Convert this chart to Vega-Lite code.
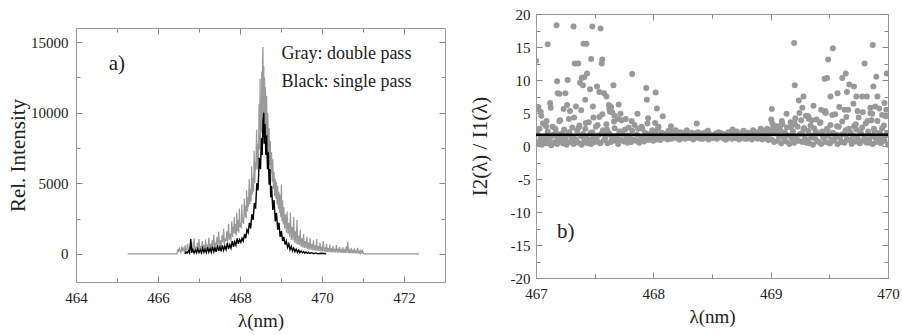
{
  "$schema": "https://vega.github.io/schema/vega-lite/v6.json",
  "background": "white",
  "padding": {"left": 7, "top": 7, "right": 2, "bottom": 2},
  "spacing": 23,
  "config": {
    "view": {"stroke": null},
    "font": "Liberation Serif",
    "axis": {
      "labelFont": "Liberation Serif", "titleFont": "Liberation Serif",
      "labelFontSize": 15, "labelColor": "#222", "titleColor": "#222",
      "titleFontWeight": "normal", "domain": true, "domainColor": "#999", "domainWidth": 1, "grid": false,
      "tickColor": "#888", "labelOverlap": false, "labelFlush": false
    }
  },
  "datasets": {
    "gray": [
      {"x":465.26,"y":0},{"x":466.46,"y":0},
      {"x":466.48,"y":300},{"x":466.50,"y":120},{"x":466.52,"y":450},{"x":466.54,"y":200},{"x":466.56,"y":90},{"x":466.58,"y":520},{"x":466.60,"y":260},{"x":466.62,"y":380},{"x":466.64,"y":110},{"x":466.66,"y":600},
      {"x":466.68,"y":150},{"x":466.70,"y":300},{"x":466.72,"y":700},{"x":466.74,"y":240},{"x":466.76,"y":180},{"x":466.78,"y":520},{"x":466.80,"y":330},{"x":466.82,"y":850},{"x":466.84,"y":200},{"x":466.86,"y":420},
      {"x":466.88,"y":1100},{"x":466.90,"y":260},{"x":466.92,"y":500},{"x":466.94,"y":180},{"x":466.96,"y":780},{"x":466.98,"y":350},{"x":467.00,"y":1050},{"x":467.02,"y":280},{"x":467.04,"y":460},{"x":467.06,"y":230},
      {"x":467.08,"y":900},{"x":467.10,"y":400},{"x":467.12,"y":620},{"x":467.14,"y":250},{"x":467.16,"y":1000},{"x":467.18,"y":380},{"x":467.20,"y":550},{"x":467.22,"y":300},{"x":467.24,"y":1150},{"x":467.26,"y":450},
      {"x":467.28,"y":700},{"x":467.30,"y":320},{"x":467.32,"y":950},{"x":467.34,"y":520},{"x":467.36,"y":1350},{"x":467.38,"y":400},{"x":467.40,"y":800},{"x":467.42,"y":600},{"x":467.44,"y":1200},{"x":467.46,"y":450},
      {"x":467.48,"y":1550},{"x":467.50,"y":700},{"x":467.52,"y":950},{"x":467.54,"y":500},{"x":467.56,"y":1300},{"x":467.58,"y":800},{"x":467.60,"y":1750},{"x":467.62,"y":650},{"x":467.64,"y":1100},{"x":467.66,"y":900},
      {"x":467.68,"y":1600},{"x":467.70,"y":750},{"x":467.72,"y":2100},{"x":467.74,"y":1000},{"x":467.76,"y":1450},{"x":467.78,"y":900},{"x":467.80,"y":2300},
      {"x":467.82,"y":1200},{"x":467.835,"y":1900},{"x":467.845,"y":1500},{"x":467.86,"y":2600},{"x":467.88,"y":1400},{"x":467.895,"y":2100},{"x":467.91,"y":1300},{"x":467.92,"y":2900},{"x":467.94,"y":1600},{"x":467.955,"y":2400},
      {"x":467.97,"y":1500},{"x":467.985,"y":3200},{"x":468.00,"y":1900},{"x":468.01,"y":2200},{"x":468.03,"y":1800},{"x":468.045,"y":3500},{"x":468.06,"y":2200},{"x":468.07,"y":2600},{"x":468.09,"y":2100},{"x":468.105,"y":3900},
      {"x":468.12,"y":2600},{"x":468.135,"y":3400},{"x":468.15,"y":2500},{"x":468.16,"y":4500},{"x":468.18,"y":3000},{"x":468.195,"y":4000},{"x":468.205,"y":3300},{"x":468.225,"y":5300},{"x":468.24,"y":3500},{"x":468.255,"y":4600},
      {"x":468.27,"y":3700},{"x":468.285,"y":6200},{"x":468.30,"y":4200},{"x":468.31,"y":5400},{"x":468.33,"y":4400},{"x":468.345,"y":7300},{"x":468.36,"y":5000},{"x":468.375,"y":6500},{"x":468.385,"y":5900},{"x":468.405,"y":8800},
      {"x":468.42,"y":6000},{"x":468.435,"y":7800},{"x":468.45,"y":6600},{"x":468.465,"y":10600},{"x":468.48,"y":7400},{"x":468.49,"y":12400},{"x":468.50,"y":8200},{"x":468.51,"y":10800},{"x":468.52,"y":8600},{"x":468.53,"y":12900},
      {"x":468.54,"y":9300},{"x":468.55,"y":13800},{"x":468.56,"y":14650},{"x":468.57,"y":9800},{"x":468.58,"y":13300},{"x":468.59,"y":9400},{"x":468.60,"y":12500},{"x":468.61,"y":8900},{"x":468.62,"y":11800},{"x":468.635,"y":8300},
      {"x":468.65,"y":11200},{"x":468.665,"y":7700},{"x":468.68,"y":10000},{"x":468.695,"y":7000},{"x":468.71,"y":8900},{"x":468.725,"y":6300},{"x":468.74,"y":8000},{"x":468.755,"y":5700},{"x":468.77,"y":7200},{"x":468.785,"y":5100},
      {"x":468.80,"y":6700},{"x":468.815,"y":4600},{"x":468.83,"y":5800},{"x":468.845,"y":4100},{"x":468.86,"y":5300},{"x":468.875,"y":3900},{"x":468.89,"y":5100},{"x":468.905,"y":3500},{"x":468.92,"y":4800},{"x":468.935,"y":3200},
      {"x":468.95,"y":4400},{"x":468.965,"y":2900},{"x":468.98,"y":4200},{"x":468.995,"y":2600},{"x":469.01,"y":4900},{"x":469.025,"y":2300},{"x":469.04,"y":3800},{"x":469.055,"y":2100},{"x":469.07,"y":3300},
      {"x":469.09,"y":1800},{"x":469.11,"y":2800},{"x":469.13,"y":1500},{"x":469.15,"y":3000},{"x":469.17,"y":1400},{"x":469.19,"y":2200},{"x":469.21,"y":1200},{"x":469.23,"y":2900},{"x":469.25,"y":1000},{"x":469.27,"y":1900},
      {"x":469.29,"y":950},{"x":469.31,"y":2600},{"x":469.33,"y":800},{"x":469.35,"y":1600},{"x":469.37,"y":700},{"x":469.39,"y":2400},{"x":469.41,"y":650},{"x":469.43,"y":1300},{"x":469.45,"y":600},{"x":469.47,"y":1700},
      {"x":469.49,"y":500},{"x":469.51,"y":1100},{"x":469.53,"y":450},{"x":469.55,"y":1400},{"x":469.57,"y":420},{"x":469.59,"y":900},{"x":469.61,"y":380},{"x":469.63,"y":1200},{"x":469.65,"y":350},{"x":469.67,"y":800},
      {"x":469.69,"y":300},{"x":469.71,"y":1100},{"x":469.73,"y":280},{"x":469.75,"y":700},{"x":469.77,"y":260},{"x":469.79,"y":950},{"x":469.81,"y":240},{"x":469.83,"y":600},{"x":469.85,"y":220},{"x":469.87,"y":1050},
      {"x":469.89,"y":200},{"x":469.91,"y":550},{"x":469.93,"y":190},{"x":469.95,"y":800},{"x":469.97,"y":170},{"x":469.99,"y":500},{"x":470.01,"y":160},{"x":470.03,"y":900},{"x":470.05,"y":150},{"x":470.07,"y":450},
      {"x":470.09,"y":140},{"x":470.11,"y":700},{"x":470.13,"y":130},{"x":470.15,"y":400},{"x":470.17,"y":120},{"x":470.19,"y":650},{"x":470.21,"y":110},{"x":470.23,"y":380},{"x":470.25,"y":100},{"x":470.27,"y":560},
      {"x":470.29,"y":100},{"x":470.31,"y":350},{"x":470.33,"y":90},{"x":470.35,"y":620},{"x":470.37,"y":90},{"x":470.39,"y":300},{"x":470.41,"y":80},{"x":470.43,"y":500},{"x":470.45,"y":80},{"x":470.47,"y":280},
      {"x":470.49,"y":70},{"x":470.51,"y":450},{"x":470.53,"y":70},{"x":470.55,"y":260},{"x":470.57,"y":60},{"x":470.59,"y":520},{"x":470.61,"y":60},{"x":470.63,"y":850},{"x":470.65,"y":50},{"x":470.67,"y":240},
      {"x":470.69,"y":50},{"x":470.71,"y":420},{"x":470.73,"y":40},{"x":470.75,"y":220},{"x":470.77,"y":40},{"x":470.79,"y":380},{"x":470.81,"y":30},{"x":470.83,"y":200},{"x":470.85,"y":30},{"x":470.87,"y":420},
      {"x":470.89,"y":20},{"x":470.91,"y":180},{"x":470.93,"y":20},{"x":470.95,"y":300},{"x":470.97,"y":10},{"x":470.99,"y":220},{"x":471.01,"y":10},{"x":471.03,"y":0},{"x":472.37,"y":0}
    ],
    "black": [
      {"x":466.65,"y":0},{"x":466.68,"y":120},{"x":466.71,"y":40},{"x":466.74,"y":200},{"x":466.77,"y":60},{"x":466.80,"y":1050},{"x":466.82,"y":80},{"x":466.85,"y":300},{"x":466.88,"y":50},{"x":466.91,"y":250},
      {"x":466.94,"y":70},{"x":466.97,"y":350},{"x":467.00,"y":90},{"x":467.03,"y":280},{"x":467.06,"y":60},{"x":467.09,"y":400},{"x":467.12,"y":100},{"x":467.15,"y":320},{"x":467.18,"y":80},{"x":467.21,"y":450},
      {"x":467.24,"y":120},{"x":467.27,"y":380},{"x":467.30,"y":100},{"x":467.33,"y":500},{"x":467.36,"y":150},{"x":467.39,"y":420},{"x":467.42,"y":130},{"x":467.45,"y":600},{"x":467.48,"y":200},{"x":467.51,"y":520},
      {"x":467.54,"y":180},{"x":467.57,"y":600},{"x":467.60,"y":250},{"x":467.63,"y":550},{"x":467.66,"y":300},{"x":467.69,"y":750},{"x":467.72,"y":350},{"x":467.75,"y":650},{"x":467.78,"y":400},{"x":467.81,"y":900},
      {"x":467.84,"y":500},{"x":467.87,"y":850},{"x":467.90,"y":600},{"x":467.93,"y":1100},{"x":467.96,"y":700},{"x":467.99,"y":1000},{"x":468.02,"y":800},{"x":468.05,"y":1100},{"x":468.08,"y":900},{"x":468.11,"y":1400},
      {"x":468.14,"y":1100},{"x":468.17,"y":1700},{"x":468.20,"y":1500},{"x":468.23,"y":2200},{"x":468.26,"y":1800},{"x":468.29,"y":2800},{"x":468.32,"y":2400},{"x":468.35,"y":3600},{"x":468.38,"y":3200},{"x":468.41,"y":5000},
      {"x":468.44,"y":4500},{"x":468.47,"y":6800},{"x":468.50,"y":6000},{"x":468.52,"y":8200},{"x":468.54,"y":7000},{"x":468.56,"y":9400},{"x":468.58,"y":10000},{"x":468.59,"y":7800},{"x":468.61,"y":9200},{"x":468.63,"y":7000},
      {"x":468.65,"y":8400},{"x":468.67,"y":6000},{"x":468.69,"y":7200},{"x":468.71,"y":4900},{"x":468.73,"y":6000},{"x":468.75,"y":4000},{"x":468.77,"y":4800},{"x":468.80,"y":3100},{"x":468.83,"y":3800},{"x":468.86,"y":2300},
      {"x":468.89,"y":2900},{"x":468.92,"y":1700},{"x":468.95,"y":2200},{"x":468.98,"y":1200},{"x":469.01,"y":1600},{"x":469.04,"y":900},{"x":469.07,"y":1200},{"x":469.10,"y":650},{"x":469.13,"y":900},{"x":469.16,"y":450},
      {"x":469.19,"y":700},{"x":469.22,"y":300},{"x":469.25,"y":520},{"x":469.28,"y":200},{"x":469.31,"y":400},{"x":469.34,"y":150},{"x":469.37,"y":320},{"x":469.40,"y":100},{"x":469.43,"y":260},{"x":469.46,"y":80},
      {"x":469.49,"y":200},{"x":469.52,"y":60},{"x":469.55,"y":160},{"x":469.58,"y":40},{"x":469.61,"y":130},{"x":469.64,"y":30},{"x":469.67,"y":100},{"x":469.70,"y":20},{"x":469.75,"y":80},{"x":469.80,"y":10},
      {"x":469.85,"y":60},{"x":469.90,"y":0},{"x":470.00,"y":40},{"x":470.10,"y":0}
    ],
    "pts": [
      {"x":467.00,"y":0.5},{"x":467.01,"y":1.8},{"x":467.02,"y":0.3},{"x":467.03,"y":2.6},{"x":467.04,"y":1.1},{"x":467.05,"y":0.2},{"x":467.06,"y":3.4},{"x":467.07,"y":0.9},{"x":467.08,"y":1.5},{"x":467.09,"y":0.4},
      {"x":467.10,"y":2.2},{"x":467.11,"y":0.7},{"x":467.12,"y":1.3},{"x":467.13,"y":0.1},{"x":467.14,"y":2.9},{"x":467.15,"y":1.6},{"x":467.16,"y":0.6},{"x":467.17,"y":2.0},{"x":467.18,"y":0.3},{"x":467.19,"y":1.2},
      {"x":467.20,"y":3.8},{"x":467.21,"y":0.8},{"x":467.22,"y":1.9},{"x":467.23,"y":0.4},{"x":467.24,"y":2.5},{"x":467.25,"y":1.0},{"x":467.26,"y":0.2},{"x":467.27,"y":1.7},{"x":467.28,"y":4.1},{"x":467.29,"y":0.6},
      {"x":467.30,"y":1.4},{"x":467.31,"y":2.8},{"x":467.32,"y":0.3},{"x":467.33,"y":1.1},{"x":467.34,"y":0.9},{"x":467.35,"y":2.3},{"x":467.36,"y":0.5},{"x":467.37,"y":3.1},{"x":467.38,"y":1.5},{"x":467.39,"y":0.2},
      {"x":467.40,"y":1.8},{"x":467.41,"y":0.7},{"x":467.42,"y":2.6},{"x":467.43,"y":1.2},{"x":467.44,"y":0.4},{"x":467.45,"y":3.6},{"x":467.46,"y":1.0},{"x":467.47,"y":0.3},{"x":467.48,"y":2.1},{"x":467.49,"y":1.4},
      {"x":467.50,"y":0.6},{"x":467.51,"y":2.9},{"x":467.52,"y":0.8},{"x":467.53,"y":1.6},{"x":467.54,"y":4.4},{"x":467.55,"y":0.5},{"x":467.56,"y":1.9},{"x":467.57,"y":2.4},{"x":467.58,"y":0.9},{"x":467.59,"y":1.2},
      {"x":467.60,"y":3.3},{"x":467.61,"y":0.4},{"x":467.62,"y":2.0},{"x":467.63,"y":1.7},{"x":467.64,"y":0.6},{"x":467.65,"y":5.1},{"x":467.66,"y":1.3},{"x":467.67,"y":2.7},{"x":467.68,"y":0.8},{"x":467.69,"y":1.5},
      {"x":467.70,"y":0.3},{"x":467.71,"y":2.2},{"x":467.72,"y":1.0},{"x":467.73,"y":3.9},{"x":467.74,"y":1.8},{"x":467.75,"y":0.7},{"x":467.76,"y":2.5},{"x":467.77,"y":1.1},{"x":467.78,"y":0.5},{"x":467.79,"y":2.8},
      {"x":467.80,"y":1.4},{"x":467.81,"y":0.6},{"x":467.82,"y":2.3},{"x":467.83,"y":1.0},{"x":467.84,"y":3.2},{"x":467.85,"y":0.8},{"x":467.86,"y":1.7},{"x":467.87,"y":2.6},{"x":467.88,"y":0.5},{"x":467.89,"y":1.2},
      {"x":467.90,"y":2.9},{"x":467.91,"y":1.1},{"x":467.92,"y":0.7},{"x":467.93,"y":2.0},{"x":467.94,"y":1.5},{"x":467.95,"y":3.4},{"x":467.96,"y":0.9},{"x":467.97,"y":1.8},{"x":467.98,"y":1.3},{"x":467.99,"y":2.4},
      {"x":468.00,"y":0.8},{"x":468.01,"y":1.6},{"x":468.02,"y":2.2},{"x":468.03,"y":1.0},{"x":468.04,"y":2.7},{"x":468.05,"y":1.4},{"x":468.06,"y":0.9},{"x":468.07,"y":2.0},{"x":468.08,"y":1.2},{"x":468.09,"y":1.7},
      {"x":468.10,"y":1.3},{"x":468.11,"y":1.9},{"x":468.12,"y":1.0},{"x":468.13,"y":2.3},{"x":468.14,"y":1.5},{"x":468.15,"y":1.1},{"x":468.16,"y":2.0},{"x":468.17,"y":1.6},{"x":468.18,"y":1.2},{"x":468.19,"y":2.4},
      {"x":468.20,"y":1.4},{"x":468.21,"y":1.8},{"x":468.22,"y":1.0},{"x":468.23,"y":2.1},{"x":468.24,"y":1.5},{"x":468.25,"y":1.3},{"x":468.26,"y":1.9},{"x":468.27,"y":1.1},{"x":468.28,"y":2.2},{"x":468.29,"y":1.6},
      {"x":468.30,"y":1.2},{"x":468.31,"y":1.7},{"x":468.32,"y":1.4},{"x":468.33,"y":2.0},{"x":468.34,"y":1.0},{"x":468.35,"y":1.8},{"x":468.36,"y":1.5},{"x":468.37,"y":1.3},{"x":468.38,"y":2.1},{"x":468.39,"y":1.2},
      {"x":468.40,"y":1.6},{"x":468.41,"y":1.9},{"x":468.42,"y":1.1},{"x":468.43,"y":1.4},{"x":468.44,"y":2.0},{"x":468.45,"y":1.3},{"x":468.46,"y":1.7},{"x":468.47,"y":1.0},{"x":468.48,"y":1.8},{"x":468.49,"y":1.5},
      {"x":468.50,"y":1.2},{"x":468.51,"y":1.6},{"x":468.52,"y":1.4},{"x":468.53,"y":1.9},{"x":468.54,"y":1.1},{"x":468.55,"y":1.7},{"x":468.56,"y":1.3},{"x":468.57,"y":2.0},{"x":468.58,"y":1.5},{"x":468.59,"y":1.2},
      {"x":468.60,"y":1.8},{"x":468.61,"y":1.4},{"x":468.62,"y":1.0},{"x":468.63,"y":1.6},{"x":468.64,"y":2.1},{"x":468.65,"y":1.3},{"x":468.66,"y":1.7},{"x":468.67,"y":1.1},{"x":468.68,"y":1.9},{"x":468.69,"y":1.5},
      {"x":468.70,"y":1.2},{"x":468.71,"y":2.2},{"x":468.72,"y":1.4},{"x":468.73,"y":1.0},{"x":468.74,"y":1.8},{"x":468.75,"y":1.6},{"x":468.76,"y":1.3},{"x":468.77,"y":2.3},{"x":468.78,"y":1.1},{"x":468.79,"y":1.7},
      {"x":468.80,"y":1.5},{"x":468.81,"y":2.0},{"x":468.82,"y":1.2},{"x":468.83,"y":1.8},{"x":468.84,"y":1.0},{"x":468.85,"y":2.4},{"x":468.86,"y":1.4},{"x":468.87,"y":1.6},{"x":468.88,"y":2.1},{"x":468.89,"y":1.1},
      {"x":468.90,"y":1.9},{"x":468.91,"y":1.3},{"x":468.92,"y":2.5},{"x":468.93,"y":1.0},{"x":468.94,"y":1.7},{"x":468.95,"y":2.2},{"x":468.96,"y":1.2},{"x":468.97,"y":2.6},{"x":468.98,"y":0.9},{"x":468.99,"y":1.8},
      {"x":469.00,"y":2.3},{"x":469.01,"y":1.0},{"x":469.02,"y":2.7},{"x":469.03,"y":0.6},{"x":469.04,"y":1.9},{"x":469.05,"y":3.0},{"x":469.06,"y":0.8},{"x":469.07,"y":1.5},{"x":469.08,"y":2.4},{"x":469.09,"y":0.4},
      {"x":469.10,"y":3.3},{"x":469.11,"y":1.2},{"x":469.12,"y":2.1},{"x":469.13,"y":0.7},{"x":469.14,"y":2.8},{"x":469.15,"y":1.6},{"x":469.16,"y":0.3},{"x":469.17,"y":3.6},{"x":469.18,"y":1.1},{"x":469.19,"y":2.2},
      {"x":469.20,"y":0.5},{"x":469.21,"y":4.2},{"x":469.22,"y":1.4},{"x":469.23,"y":2.9},{"x":469.24,"y":0.8},{"x":469.25,"y":1.8},{"x":469.26,"y":3.9},{"x":469.27,"y":0.6},{"x":469.28,"y":2.5},{"x":469.29,"y":1.3},
      {"x":469.30,"y":4.6},{"x":469.31,"y":0.9},{"x":469.32,"y":2.3},{"x":469.33,"y":0.4},{"x":469.34,"y":3.1},{"x":469.35,"y":1.6},{"x":469.36,"y":0.2},{"x":469.37,"y":2.7},{"x":469.38,"y":1.1},{"x":469.39,"y":4.0},
      {"x":469.40,"y":0.7},{"x":469.41,"y":1.9},{"x":469.42,"y":3.5},{"x":469.43,"y":0.3},{"x":469.44,"y":2.2},{"x":469.45,"y":1.2},{"x":469.46,"y":5.2},{"x":469.47,"y":0.6},{"x":469.48,"y":2.6},{"x":469.49,"y":1.5},
      {"x":469.50,"y":0.4},{"x":469.51,"y":3.2},{"x":469.52,"y":1.0},{"x":469.53,"y":2.0},{"x":469.54,"y":0.8},{"x":469.55,"y":4.8},{"x":469.56,"y":1.7},{"x":469.57,"y":0.3},{"x":469.58,"y":2.9},{"x":469.59,"y":1.3},
      {"x":469.60,"y":0.6},{"x":469.61,"y":3.7},{"x":469.62,"y":1.8},{"x":469.63,"y":0.5},{"x":469.64,"y":2.4},{"x":469.65,"y":1.1},{"x":469.66,"y":5.5},{"x":469.67,"y":0.9},{"x":469.68,"y":2.1},{"x":469.69,"y":0.3},
      {"x":469.70,"y":1.6},{"x":469.71,"y":3.0},{"x":469.72,"y":0.7},{"x":469.73,"y":2.5},{"x":469.74,"y":1.2},{"x":469.75,"y":4.3},{"x":469.76,"y":0.4},{"x":469.77,"y":1.9},{"x":469.78,"y":2.8},{"x":469.79,"y":0.8},
      {"x":469.80,"y":1.4},{"x":469.81,"y":3.4},{"x":469.82,"y":0.5},{"x":469.83,"y":2.2},{"x":469.84,"y":1.0},{"x":469.85,"y":5.0},{"x":469.86,"y":1.6},{"x":469.87,"y":0.3},{"x":469.88,"y":2.6},{"x":469.89,"y":1.3},
      {"x":469.90,"y":0.6},{"x":469.91,"y":3.8},{"x":469.92,"y":1.1},{"x":469.93,"y":2.0},{"x":469.94,"y":0.4},{"x":469.95,"y":2.7},{"x":469.96,"y":1.5},{"x":469.97,"y":0.8},{"x":469.98,"y":4.5},{"x":469.99,"y":1.9},
      {"x":470.00,"y":0.2},
      {"x":467.005,"y":2.3},{"x":467.025,"y":0.6},{"x":467.045,"y":4.6},{"x":467.065,"y":1.2},{"x":467.085,"y":3.0},{"x":467.105,"y":0.4},{"x":467.125,"y":5.8},{"x":467.145,"y":1.7},{"x":467.165,"y":2.6},{"x":467.185,"y":0.9},
      {"x":467.205,"y":3.9},{"x":467.225,"y":1.4},{"x":467.245,"y":0.5},{"x":467.265,"y":6.2},{"x":467.285,"y":2.1},{"x":467.305,"y":1.0},{"x":467.325,"y":4.3},{"x":467.345,"y":0.7},{"x":467.365,"y":2.8},{"x":467.385,"y":5.4},
      {"x":467.405,"y":1.3},{"x":467.425,"y":3.5},{"x":467.445,"y":0.6},{"x":467.465,"y":2.0},{"x":467.485,"y":6.0},{"x":467.505,"y":1.1},{"x":467.525,"y":3.2},{"x":467.545,"y":0.4},{"x":467.565,"y":4.8},{"x":467.585,"y":1.8},
      {"x":467.605,"y":2.5},{"x":467.625,"y":5.6},{"x":467.645,"y":0.9},{"x":467.665,"y":3.7},{"x":467.685,"y":1.5},{"x":467.705,"y":6.3},{"x":467.725,"y":2.2},{"x":467.745,"y":0.8},{"x":467.765,"y":4.1},{"x":467.785,"y":1.6},
      {"x":469.205,"y":3.4},{"x":469.225,"y":0.8},{"x":469.245,"y":5.0},{"x":469.265,"y":1.9},{"x":469.285,"y":2.7},{"x":469.305,"y":0.5},{"x":469.325,"y":4.1},{"x":469.345,"y":1.3},{"x":469.365,"y":6.1},{"x":469.385,"y":2.2},
      {"x":469.405,"y":0.7},{"x":469.425,"y":3.6},{"x":469.445,"y":1.5},{"x":469.465,"y":5.3},{"x":469.485,"y":2.4},{"x":469.505,"y":0.4},{"x":469.525,"y":4.7},{"x":469.545,"y":1.1},{"x":469.565,"y":3.0},{"x":469.585,"y":5.9},
      {"x":469.605,"y":1.7},{"x":469.625,"y":0.6},{"x":469.645,"y":4.4},{"x":469.665,"y":2.6},{"x":469.685,"y":1.0},{"x":469.705,"y":6.4},{"x":469.725,"y":3.3},{"x":469.745,"y":0.9},{"x":469.765,"y":2.1},{"x":469.785,"y":5.1},
      {"x":469.805,"y":1.4},{"x":469.825,"y":3.8},{"x":469.845,"y":0.5},{"x":469.865,"y":4.9},{"x":469.885,"y":2.3},{"x":469.905,"y":1.2},{"x":469.925,"y":5.7},{"x":469.945,"y":0.8},{"x":469.965,"y":3.1},{"x":469.985,"y":1.6},
      {"x":468.105,"y":1.7},{"x":468.135,"y":1.2},{"x":468.165,"y":2.2},{"x":468.195,"y":1.5},{"x":468.225,"y":1.0},{"x":468.255,"y":1.9},{"x":468.285,"y":2.4},{"x":468.315,"y":1.3},{"x":468.345,"y":1.6},{"x":468.375,"y":2.0},
      {"x":468.405,"y":1.1},{"x":468.435,"y":1.8},{"x":468.465,"y":2.3},{"x":468.495,"y":1.4},{"x":468.525,"y":1.2},{"x":468.555,"y":2.1},{"x":468.585,"y":1.6},{"x":468.615,"y":1.0},{"x":468.645,"y":1.9},{"x":468.675,"y":2.5},
      {"x":468.705,"y":1.3},{"x":468.735,"y":1.7},{"x":468.765,"y":2.2},{"x":468.795,"y":1.1},{"x":468.825,"y":1.5},{"x":468.855,"y":2.0},{"x":468.885,"y":1.4},{"x":468.915,"y":2.6},{"x":468.945,"y":1.2},{"x":468.975,"y":1.8},
      {"x":467.815,"y":3.8},{"x":467.865,"y":4.9},{"x":467.905,"y":2.6},{"x":467.955,"y":4.2},{"x":468.015,"y":3.5},{"x":468.045,"y":2.9},{"x":469.015,"y":3.4},{"x":469.055,"y":2.5},{"x":469.095,"y":3.8},{"x":469.135,"y":4.9},{"x":469.175,"y":2.8},
      {"x":467.00,"y":12.9},{"x":467.005,"y":5.6},{"x":467.02,"y":5.9},{"x":467.04,"y":5.2},{"x":467.10,"y":15.4},{"x":467.09,"y":3.8},{"x":467.12,"y":6.5},{"x":467.175,"y":18.3},{"x":467.18,"y":9.8},{"x":467.185,"y":8.0},
      {"x":467.20,"y":7.9},{"x":467.25,"y":8.0},{"x":467.27,"y":10.0},{"x":467.235,"y":5.6},{"x":467.29,"y":5.3},{"x":467.32,"y":18.1},{"x":467.33,"y":12.5},{"x":467.36,"y":12.5},{"x":467.34,"y":6.0},{"x":467.375,"y":9.6},
      {"x":467.39,"y":10.3},{"x":467.40,"y":9.2},{"x":467.41,"y":10.4},{"x":467.405,"y":15.5},{"x":467.43,"y":15.5},{"x":467.42,"y":7.0},{"x":467.435,"y":11.0},{"x":467.48,"y":18.1},{"x":467.47,"y":13.2},{"x":467.46,"y":8.6},
      {"x":467.49,"y":4.3},{"x":467.55,"y":17.8},{"x":467.56,"y":12.5},{"x":467.565,"y":13.1},{"x":467.52,"y":9.0},{"x":467.54,"y":8.2},{"x":467.58,"y":8.0},{"x":467.60,"y":7.5},{"x":467.62,"y":6.2},{"x":467.63,"y":5.2},
      {"x":467.66,"y":9.2},{"x":467.64,"y":5.9},{"x":467.67,"y":4.6},{"x":467.70,"y":4.1},{"x":467.72,"y":4.9},{"x":467.82,"y":10.9},{"x":467.94,"y":8.8},{"x":467.945,"y":7.0},{"x":468.02,"y":8.1},{"x":468.03,"y":5.7},
      {"x":468.08,"y":4.5},{"x":468.37,"y":3.4},{"x":468.15,"y":3.0},{"x":469.01,"y":5.6},{"x":469.005,"y":4.0},{"x":469.08,"y":3.0},{"x":469.20,"y":15.6},{"x":469.205,"y":9.2},{"x":469.24,"y":6.9},{"x":469.27,"y":5.8},
      {"x":469.28,"y":7.5},{"x":469.32,"y":4.5},{"x":469.35,"y":3.9},{"x":469.43,"y":5.5},{"x":469.47,"y":5.0},{"x":469.49,"y":13.1},{"x":469.53,"y":14.8},{"x":469.46,"y":10.2},{"x":469.48,"y":10.3},{"x":469.51,"y":7.5},
      {"x":469.57,"y":8.0},{"x":469.61,"y":10.3},{"x":469.64,"y":11.0},{"x":469.65,"y":8.2},{"x":469.67,"y":9.3},{"x":469.63,"y":5.5},{"x":469.71,"y":9.0},{"x":469.73,"y":7.5},{"x":469.74,"y":5.3},{"x":469.80,"y":12.5},
      {"x":469.78,"y":7.5},{"x":469.82,"y":7.5},{"x":469.87,"y":15.3},{"x":469.875,"y":9.0},{"x":469.85,"y":5.8},{"x":469.86,"y":3.9},{"x":469.90,"y":10.5},{"x":469.91,"y":7.5},{"x":469.99,"y":11.0},{"x":469.97,"y":6.5},
      {"x":469.95,"y":4.7},{"x":469.985,"y":5.5},{"x":469.89,"y":6.0}
    ],
    "ratio": [{"r": 1.7}],
    "labA": [{"x": 464.8, "y": 13450, "t": "a)"}],
    "labL": [{"x": 469.01, "y": 14157, "t": "Gray: double pass"}, {"x": 469.01, "y": 12173, "t": "Black: single pass"}],
    "labB": [{"x": 467.18, "y": -13, "t": "b)"}]
  },
  "hconcat": [
    {
      "width": 369,
      "height": 268,
      "layer": [
        {
          "data": {"name": "gray"},
          "mark": {"type": "line", "color": "#9a9a9a", "strokeWidth": 1.2},
          "encoding": {
            "x": {"field": "x", "type": "quantitative", "scale": {"domain": [464, 473], "nice": false, "zero": false},
              "axis": {"orient": "bottom", "title": "λ(nm)", "titleFontSize": 19, "titlePadding": 4,
                "values": [464,465,466,467,468,469,470,471,472], "format": "d",
                "labelExpr": "datum.value % 2 === 0 ? datum.label : ''",
                "tickSize": {"condition": {"test": "datum.value % 2 === 0", "value": -6}, "value": -4}, "labelPadding": 14}},
            "y": {"field": "y", "type": "quantitative", "scale": {"domain": [-2000, 16000], "range": [268, 14], "nice": false, "zero": false},
              "axis": {"orient": "left", "title": "Rel. Intensity", "titleFontSize": 21, "titlePadding": 2,
                "values": [0,2500,5000,7500,10000,12500,15000], "format": "d",
                "labelExpr": "datum.value % 5000 === 0 ? datum.label : ''",
                "tickSize": {"condition": {"test": "datum.value % 5000 === 0", "value": -6}, "value": -4}, "labelPadding": 14}}
          }
        },
        {
          "data": {"name": "black"},
          "mark": {"type": "line", "color": "#000000", "strokeWidth": 1.4},
          "encoding": {
            "x": {"field": "x", "type": "quantitative", "axis": null},
            "y": {"field": "y", "type": "quantitative", "axis": null}
          }
        },
        {
          "data": {"name": "labA"},
          "mark": {"type": "text", "align": "left", "baseline": "middle", "fontSize": 21, "color": "#222", "font": "Liberation Serif"},
          "encoding": {
            "x": {"field": "x", "type": "quantitative", "axis": null},
            "y": {"field": "y", "type": "quantitative", "axis": null},
            "text": {"field": "t"}
          }
        },
        {
          "data": {"name": "labL"},
          "mark": {"type": "text", "align": "left", "baseline": "middle", "fontSize": 18, "color": "#222", "font": "Liberation Serif"},
          "encoding": {
            "x": {"field": "x", "type": "quantitative",
              "axis": {"orient": "top", "title": null, "labels": false, "offset": -14,
                "values": [464,465,466,467,468,469,470,471,472],
                "tickSize": {"condition": {"test": "datum.value % 2 === 0", "value": -6}, "value": -4}}},
            "y": {"field": "y", "type": "quantitative",
              "axis": {"orient": "right", "title": null, "labels": false,
                "values": [0,2500,5000,7500,10000,12500,15000],
                "tickSize": {"condition": {"test": "datum.value % 5000 === 0", "value": -6}, "value": -4}}},
            "text": {"field": "t"}
          }
        }
      ],
      "resolve": {"axis": {"x": "independent", "y": "independent"}}
    },
    {
      "width": 352,
      "height": 264,
      "layer": [
        {
          "data": {"name": "pts"},
          "mark": {"type": "circle", "color": "#999999", "opacity": 1, "size": 36, "clip": true},
          "encoding": {
            "x": {"field": "x", "type": "quantitative", "scale": {"domain": [467, 470], "nice": false, "zero": false},
              "axis": {"orient": "bottom", "title": "λ(nm)", "titleFontSize": 19, "titlePadding": 4,
                "values": [467,467.5,468,468.5,469,469.5,470],
                "labelExpr": "datum.value % 1 === 0 ? '' + datum.value : ''",
                "tickSize": {"condition": {"test": "datum.value % 1 === 0", "value": -6}, "value": -4}, "labelPadding": 14}},
            "y": {"field": "y", "type": "quantitative", "scale": {"domain": [-20, 20], "nice": false, "zero": false},
              "axis": {"orient": "left", "title": "I2(λ) / I1(λ)", "titleFontSize": 21, "titlePadding": 20,
                "values": [-20,-17.5,-15,-12.5,-10,-7.5,-5,-2.5,0,2.5,5,7.5,10,12.5,15,17.5,20],
                "labelExpr": "datum.value % 5 === 0 ? '' + datum.value : ''",
                "tickSize": {"condition": {"test": "datum.value % 5 === 0", "value": -6}, "value": -4}, "labelPadding": 12}}
          }
        },
        {
          "data": {"name": "ratio"},
          "mark": {"type": "rule", "color": "#000000", "strokeWidth": 2.5},
          "encoding": {
            "y": {"field": "r", "type": "quantitative", "axis": null}
          }
        },
        {
          "data": {"name": "labB"},
          "mark": {"type": "text", "align": "left", "baseline": "middle", "fontSize": 21, "color": "#222", "font": "Liberation Serif"},
          "encoding": {
            "x": {"field": "x", "type": "quantitative",
              "axis": {"orient": "top", "title": null, "labels": false,
                "values": [467,467.5,468,468.5,469,469.5,470],
                "tickSize": {"condition": {"test": "datum.value % 1 === 0", "value": -6}, "value": -4}}},
            "y": {"field": "y", "type": "quantitative",
              "axis": {"orient": "right", "title": null, "labels": false,
                "values": [-20,-17.5,-15,-12.5,-10,-7.5,-5,-2.5,0,2.5,5,7.5,10,12.5,15,17.5,20],
                "tickSize": {"condition": {"test": "datum.value % 5 === 0", "value": -6}, "value": -4}}},
            "text": {"field": "t"}
          }
        }
      ],
      "resolve": {"axis": {"x": "independent", "y": "independent"}}
    }
  ]
}
